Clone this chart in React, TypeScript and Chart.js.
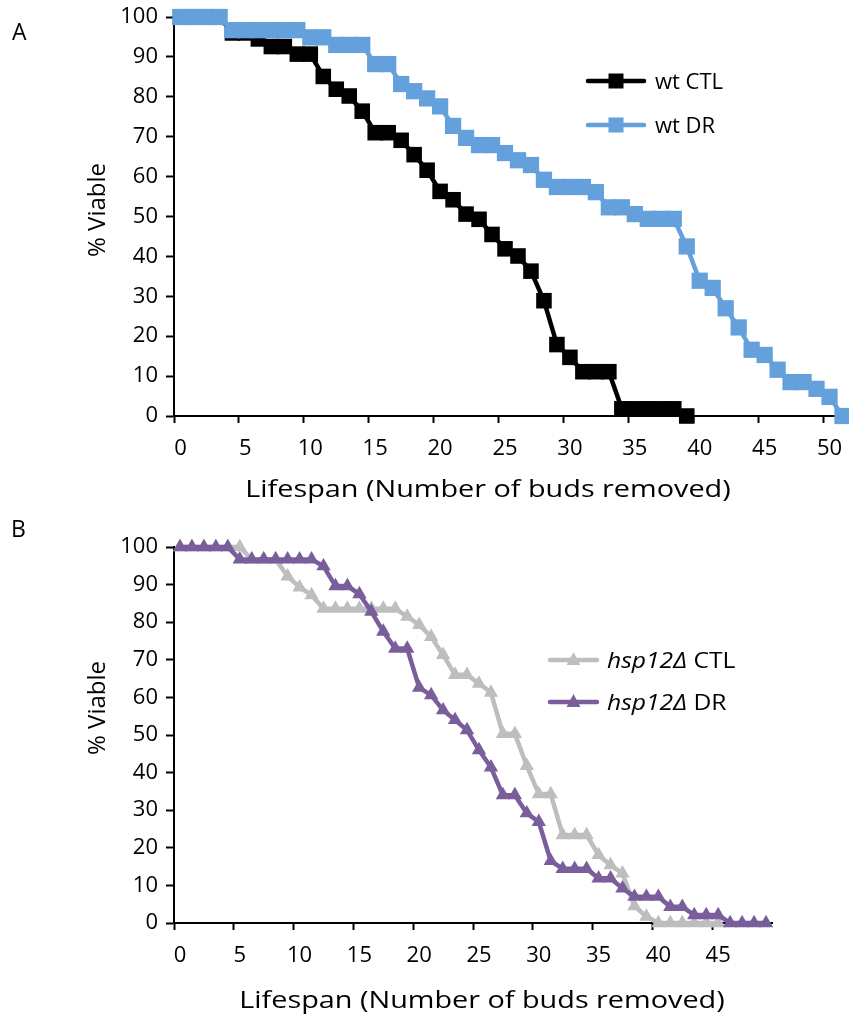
import React, { useEffect, useRef } from "react";
import { Chart, registerables } from "chart.js";

Chart.register(...registerables);

// ---------- data ----------
// Panel A: number of buds removed (categories 0..51)
const budsA = [
  "0", "1", "2", "3", "4", "5", "6", "7", "8", "9",
  "10", "11", "12", "13", "14", "15", "16", "17", "18", "19",
  "20", "21", "22", "23", "24", "25", "26", "27", "28", "29",
  "30", "31", "32", "33", "34", "35", "36", "37", "38", "39",
  "40", "41", "42", "43", "44", "45", "46", "47", "48", "49",
  "50", "51",
];
const wtCTL = [
  100, 100, 100, 100, 96, 96, 94.5, 92.6, 92.6, 90.7,
  90.7, 85.1, 81.9, 80.2, 76.4, 71, 71, 69.1, 65.5, 61.6,
  56.3, 54.2, 50.6, 49.3, 45.5, 41.9, 40.1, 36.3, 28.9, 17.9,
  14.7, 11.1, 11.1, 11.1, 1.8, 1.8, 1.8, 1.8, 1.8, 0,
  null, null, null, null, null, null, null, null, null, null,
  null, null,
];
const wtDR = [
  100, 100, 100, 100, 96.7, 96.7, 96.7, 96.7, 96.7, 96.7,
  94.9, 94.9, 93, 93, 93, 88.2, 88.2, 83.2, 81.4, 79.6,
  77.6, 72.7, 69.7, 67.9, 67.9, 65.9, 64.1, 62.9, 59.2, 57.4,
  57.4, 57.4, 56.1, 52.3, 52.3, 50.6, 49.4, 49.4, 49.4, 42.5,
  33.9, 32.1, 27, 22.2, 16.6, 15.3, 11.6, 8.5, 8.5, 6.8,
  4.8, 0,
];

// Panel B: number of buds removed (categories 0..49)
const budsB = [
  "0", "1", "2", "3", "4", "5", "6", "7", "8", "9",
  "10", "11", "12", "13", "14", "15", "16", "17", "18", "19",
  "20", "21", "22", "23", "24", "25", "26", "27", "28", "29",
  "30", "31", "32", "33", "34", "35", "36", "37", "38", "39",
  "40", "41", "42", "43", "44", "45", "46", "47", "48", "49",
];
const hspCTL = [
  100, 100, 100, 100, 100, 100, 96.7, 96.7, 96.7, 92.2,
  89.3, 87.2, 83.6, 83.6, 83.6, 83.6, 83.6, 83.6, 83.6, 81.5,
  79.3, 76.1, 71.3, 66, 66, 63.7, 61.3, 50.3, 50.3, 41.8,
  34.3, 34.3, 23.4, 23.4, 23.4, 18.1, 15.4, 13.2, 4.5, 1.7,
  0, 0, 0, 0, 0, 0, null, null, null, null,
];
const hspDR = [
  100, 100, 100, 100, 100, 96.7, 96.7, 96.7, 96.7, 96.7,
  96.7, 96.7, 94.9, 89.6, 89.6, 87.5, 82.8, 77.5, 73, 73,
  62.6, 60.6, 56.6, 54, 51.3, 46, 41.4, 34, 34, 29.2,
  26.9, 16.5, 14.4, 14.4, 14.4, 11.9, 11.9, 9.2, 7, 7,
  7, 4.3, 4.3, 2.1, 2.1, 2.1, 0, 0, 0, 0,
];

const yTicks = [0, 10, 20, 30, 40, 50, 60, 70, 80, 90, 100];
const labelStep = 5;

const seriesNames = {
  wtCTL: "wt CTL",
  wtDR: "wt DR",
  hspGene: "hsp12Δ",
  ctl: " CTL",
  dr: " DR",
};
const xTitle = "Lifespan (Number of buds removed)";
const yTitle = "% Viable";

// ---------- styles ----------
const FONT = '"Open Sans", "DejaVu Sans", sans-serif';
const C_BLACK = "#000000";
const C_BLUE = "#64A0DC";
const C_GRAY = "#BEBEBE";
const C_PURPLE = "#7A5E9C";

const W = 849;
const AXIS_LEFT = 174;

type PanelProps = {
  top: number;
  height: number;
  padTop: number;
  padRight: number;
  xAxisHeight: number;
  labels: string[];
  datasets: any[];
};

function Panel({ top, height, padTop, padRight, xAxisHeight, labels, datasets }: PanelProps) {
  const ref = useRef<HTMLCanvasElement | null>(null);
  useEffect(() => {
    if (!ref.current) return;
    const chart = new Chart(ref.current, {
      type: "line",
      data: { labels, datasets },
      options: {
        responsive: false,
        animation: false,
        devicePixelRatio: 1,
        layout: {
          autoPadding: false,
          padding: { top: padTop, right: padRight, bottom: 0, left: 0 },
        },
        plugins: { legend: { display: false }, tooltip: { enabled: false } },
        elements: { line: { tension: 0 } },
        scales: {
          x: {
            type: "category",
            offset: true,
            grid: {
              offset: true,
              drawOnChartArea: false,
              drawTicks: true,
              tickLength: 7,
              tickWidth: 2,
              tickColor: (ctx: any) =>
                typeof ctx.index === "number" && ctx.index % labelStep === 0 ? C_BLACK : "rgba(0,0,0,0)",
            },
            border: { display: true, color: C_BLACK, width: 2 },
            ticks: {
              autoSkip: false,
              maxRotation: 0,
              minRotation: 0,
              padding: 13,
              color: C_BLACK,
              font: { family: FONT, size: 22 },
              callback: (_v: any, i: number) => (i % labelStep === 0 ? labels[i] : ""),
            },
            afterFit: (s: any) => {
              s.height = xAxisHeight;
              s.paddingLeft = 0;
              s.paddingRight = 0;
            },
          },
          y: {
            type: "linear",
            min: 0,
            max: 100,
            grid: {
              drawOnChartArea: false,
              drawTicks: true,
              tickLength: 8,
              tickWidth: 2,
              tickColor: C_BLACK,
            },
            border: { display: true, color: C_BLACK, width: 2 },
            ticks: {
              padding: 8,
              color: C_BLACK,
              font: { family: FONT, size: 22 },
            },
            afterBuildTicks: (s: any) => {
              s.ticks = yTicks.map((v) => ({ value: v }));
            },
            afterFit: (s: any) => {
              s.width = AXIS_LEFT;
              s.paddingTop = 0;
              s.paddingBottom = 0;
            },
          },
        },
      },
    });
    return () => chart.destroy();
  }, []);
  return (
    <canvas
      ref={ref}
      width={W}
      height={height}
      style={{ position: "absolute", left: 0, top, display: "block", width: W, height }}
    />
  );
}

function Txt({
  x, baseline, size, children, italic, anchor, stretch,
}: {
  x: number; baseline: number; size: number; children: React.ReactNode;
  italic?: boolean; anchor?: "start" | "middle"; stretch?: number;
}) {
  const tf: string[] = [];
  if (anchor === "middle") tf.push("translateX(-50%)");
  if (stretch) tf.push(`scaleX(${stretch})`);
  return (
    <div
      style={{
        position: "absolute",
        left: x,
        top: baseline - 0.888 * size,
        fontFamily: FONT,
        fontSize: size,
        lineHeight: `${size}px`,
        whiteSpace: "nowrap",
        fontStyle: italic ? "italic" : "normal",
        color: "#000",
        transform: tf.join(" "),
        transformOrigin: anchor === "middle" ? "center" : "left center",
      }}
    >
      {children}
    </div>
  );
}

function YTitle({ cx, cy }: { cx: number; cy: number }) {
  return (
    <div
      style={{
        position: "absolute",
        left: cx,
        top: cy,
        fontFamily: FONT,
        fontSize: 24,
        lineHeight: "24px",
        whiteSpace: "nowrap",
        color: "#000",
        transform: "translate(-50%, -50%) rotate(-90deg)",
      }}
    >
      {yTitle}
    </div>
  );
}

function LegendMark({
  x1, x2, y, color, shape, lw,
}: { x1: number; x2: number; y: number; color: string; shape: "rect" | "tri"; lw: number }) {
  const w = x2 - x1;
  const cx = w / 2;
  return (
    <svg
      width={w}
      height={24}
      style={{ position: "absolute", left: x1, top: y - 12, overflow: "visible" }}
    >
      <line x1={0} y1={12} x2={w} y2={12} stroke={color} strokeWidth={lw} strokeLinecap="round" />
      {shape === "rect" ? (
        <rect x={cx - 7.5} y={12 - 7.5} width={15} height={15} fill={color} />
      ) : (
        <polygon points={`${cx},${12 - 8} ${cx + 7},${12 + 5} ${cx - 7},${12 + 5}`} fill={color} />
      )}
    </svg>
  );
}

export default function App() {
  const dsA = [
    {
      label: seriesNames.wtCTL,
      data: wtCTL,
      borderColor: C_BLACK,
      backgroundColor: C_BLACK,
      borderWidth: 4.5,
      pointStyle: "rect",
      pointRadius: 11,
      pointBorderWidth: 0,
      pointHoverRadius: 11,
      order: 2,
      clip: false,
      spanGaps: false,
    },
    {
      label: seriesNames.wtDR,
      data: wtDR,
      borderColor: C_BLUE,
      backgroundColor: C_BLUE,
      borderWidth: 4.5,
      pointStyle: "rect",
      pointRadius: 11.5,
      pointBorderWidth: 0,
      pointHoverRadius: 11.5,
      order: 1,
      clip: false,
    },
  ];
  const dsB = [
    {
      label: seriesNames.hspGene + seriesNames.ctl,
      data: hspCTL,
      borderColor: C_GRAY,
      backgroundColor: C_GRAY,
      borderWidth: 4.5,
      pointStyle: "triangle",
      pointRadius: 8.3,
      pointBorderWidth: 0,
      pointHoverRadius: 8.3,
      order: 2,
      clip: false,
      spanGaps: false,
    },
    {
      label: seriesNames.hspGene + seriesNames.dr,
      data: hspDR,
      borderColor: C_PURPLE,
      backgroundColor: C_PURPLE,
      borderWidth: 4.5,
      pointStyle: "triangle",
      pointRadius: 8.3,
      pointBorderWidth: 0,
      pointHoverRadius: 8.3,
      order: 1,
      clip: false,
    },
  ];

  return (
    <div
      style={{
        position: "absolute",
        left: 0,
        top: 0,
        width: W,
        height: 1025,
        background: "#fff",
        overflow: "hidden",
      }}
    >
      <Panel top={0} height={510} padTop={17} padRight={0} xAxisHeight={94} labels={budsA} datasets={dsA} />
      <Panel top={510} height={515} padTop={37} padRight={77} xAxisHeight={102} labels={budsB} datasets={dsB} />

      {/* panel letters */}
      <Txt x={12} baseline={40} size={23}>A</Txt>
      <Txt x={11} baseline={537} size={23}>B</Txt>

      {/* axis titles */}
      <YTitle cx={96} cy={210} />
      <YTitle cx={96} cy={708} />
      <Txt x={488} baseline={497} size={24} anchor="middle" stretch={1.2}>{xTitle}</Txt>
      <Txt x={482} baseline={1008} size={24} anchor="middle" stretch={1.2}>{xTitle}</Txt>

      {/* legend A */}
      <LegendMark x1={588} x2={644} y={81} color={C_BLACK} shape="rect" lw={4.5} />
      <Txt x={655} baseline={89} size={22}>{seriesNames.wtCTL}</Txt>
      <LegendMark x1={588} x2={644} y={125} color={C_BLUE} shape="rect" lw={4.5} />
      <Txt x={655} baseline={133} size={22}>{seriesNames.wtDR}</Txt>

      {/* legend B */}
      <LegendMark x1={550} x2={597} y={660} color={C_GRAY} shape="tri" lw={4.5} />
      <Txt x={607} baseline={668} size={22} stretch={1.12}>
        <i>{seriesNames.hspGene}</i>
        {seriesNames.ctl}
      </Txt>
      <LegendMark x1={550} x2={597} y={702} color={C_PURPLE} shape="tri" lw={4.5} />
      <Txt x={607} baseline={710} size={22} stretch={1.12}>
        <i>{seriesNames.hspGene}</i>
        {seriesNames.dr}
      </Txt>
    </div>
  );
}
